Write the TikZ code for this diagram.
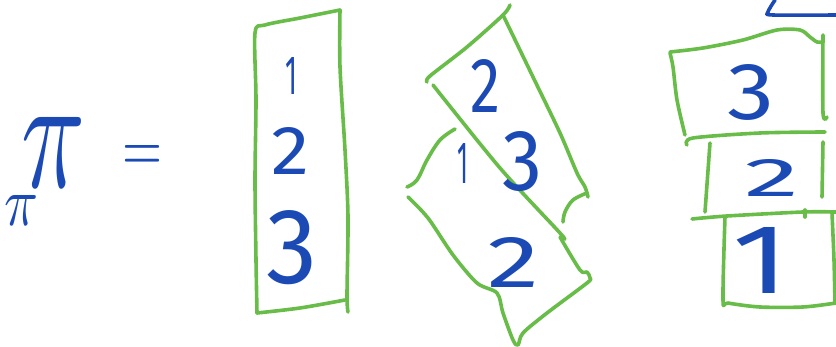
\documentclass[tikz,border=0pt]{standalone}
\usepackage{fontspec}
\usepackage{graphicx}
\setmainfont{Fira Sans}
\definecolor{pen}{RGB}{104,188,72}
\definecolor{ink}{RGB}{28,74,180}
\tikzset{
  stroke/.style={draw=pen,line width=3.6pt,line cap=round,line join=round},
  inkstroke/.style={draw=ink,line width=3.6pt,line cap=round,line join=round},
  glyph/.style={text=ink,inner sep=0pt,outer sep=0pt,anchor=center}
}
\newcommand{\fitbox}[3]{\resizebox{#1pt}{#2pt}{#3}}
\begin{document}
\begin{tikzpicture}[x=1pt,y=-1pt]
\useasboundingbox (0,0) rectangle (836,347);
% left formula
\node[glyph,anchor=base west] (pipi) at (5,226) {\fitbox{34}{30}{$\pi$}\hspace{-18pt}\raisebox{39pt}{\fitbox{64}{70}{$\pi$}}};
\node[glyph] (eq) at (142,159) {\fitbox{40}{26}{$=$}};
% middle box
\draw[stroke] plot[smooth,tension=0.5] coordinates {(340,10) (300,18) (265,25) (255,33) (256,100) (255,180) (256,260) (257,313)};
\draw[stroke] plot[smooth,tension=0.5] coordinates {(340,10) (340,67) (345,150) (348,217) (347,295) (348,312)};
\draw[stroke] plot[smooth,tension=0.5] coordinates {(257,313) (300,308) (345,300)};
\node[glyph] (m1) at (291,76) {\fitbox{12}{37}{1}};
\node[glyph] (m2) at (291,151) {\fitbox{38}{47}{2}};
\node[glyph] (m3) at (292,248) {\fitbox{51}{73}{3}};
% tilted boxes
\draw[stroke] plot[smooth,tension=0.5] coordinates {(427,82) (430,76) (467,47) (503,15) (510,5)};
\draw[stroke] plot[smooth,tension=0.5] coordinates {(503,15) (533,77) (560,133) (577,173) (585,187) (588,197)};
\draw[stroke] plot[smooth,tension=0.6] coordinates {(587,193) (573,200) (565,212) (563,222)};
\draw[stroke] plot[smooth,tension=0.5] coordinates {(433,85) (500,168) (560,233) (563,238)};
\draw[stroke] plot[smooth,tension=0.6] coordinates {(455,129) (440,140) (427,160) (417,180) (407,187)};
\draw[stroke] plot[smooth,tension=0.5] coordinates {(408,197) (428,218) (453,255) (477,283) (497,293) (503,313) (513,340) (518,345) (523,333) (547,313) (587,283) (590,278) (587,272) (580,270) (560,237)};
\node[glyph] (t2) at (485,86) {\fitbox{30}{53}{2}};
\node[glyph] (t3) at (523,162) {\fitbox{40}{59}{3}};
\node[glyph] (t1) at (463,163) {\fitbox{11}{40}{1}};
\node[glyph] (t2b) at (513,262) {\fitbox{52}{50}{2}};
% right stack
\draw[inkstroke] plot[smooth,tension=0.5] coordinates {(775,0) (768,12) (773,15) (836,15)};
\draw[stroke] plot[smooth,tension=0.5] coordinates {(670,52) (703,48) (743,40) (777,30) (800,30) (810,37) (817,42) (823,42)};
\draw[stroke] plot[smooth,tension=0.5] coordinates {(823,35) (823,113) (827,117)};
\draw[stroke] plot[smooth,tension=0.5] coordinates {(670,53) (673,67) (677,100) (685,135)};
\draw[stroke] plot[smooth,tension=0.5] coordinates {(687,145) (693,138) (760,133) (825,132)};
\draw[stroke] (710,143) -- (705,212);
\draw[stroke] (823,142) -- (822,197);
\draw[stroke] plot[smooth,tension=0.5] coordinates {(692,219) (727,216) (803,212) (836,212)};
\draw[stroke] (805,210) -- (805,217);
\draw[stroke] plot[smooth,tension=0.5] coordinates {(725,217) (723,300) (728,303) (760,307) (803,307) (836,303)};
\draw[stroke] plot[smooth,tension=0.5] coordinates {(832,213) (834,260) (835,303)};
\node[glyph] (r3) at (751,92) {\fitbox{47}{55}{3}};
\node[glyph] (r2) at (772,178) {\fitbox{55}{37}{2}};
\node[glyph] (r1) at (761,260) {\fitbox{57}{66}{1}};
\end{tikzpicture}
\end{document}
